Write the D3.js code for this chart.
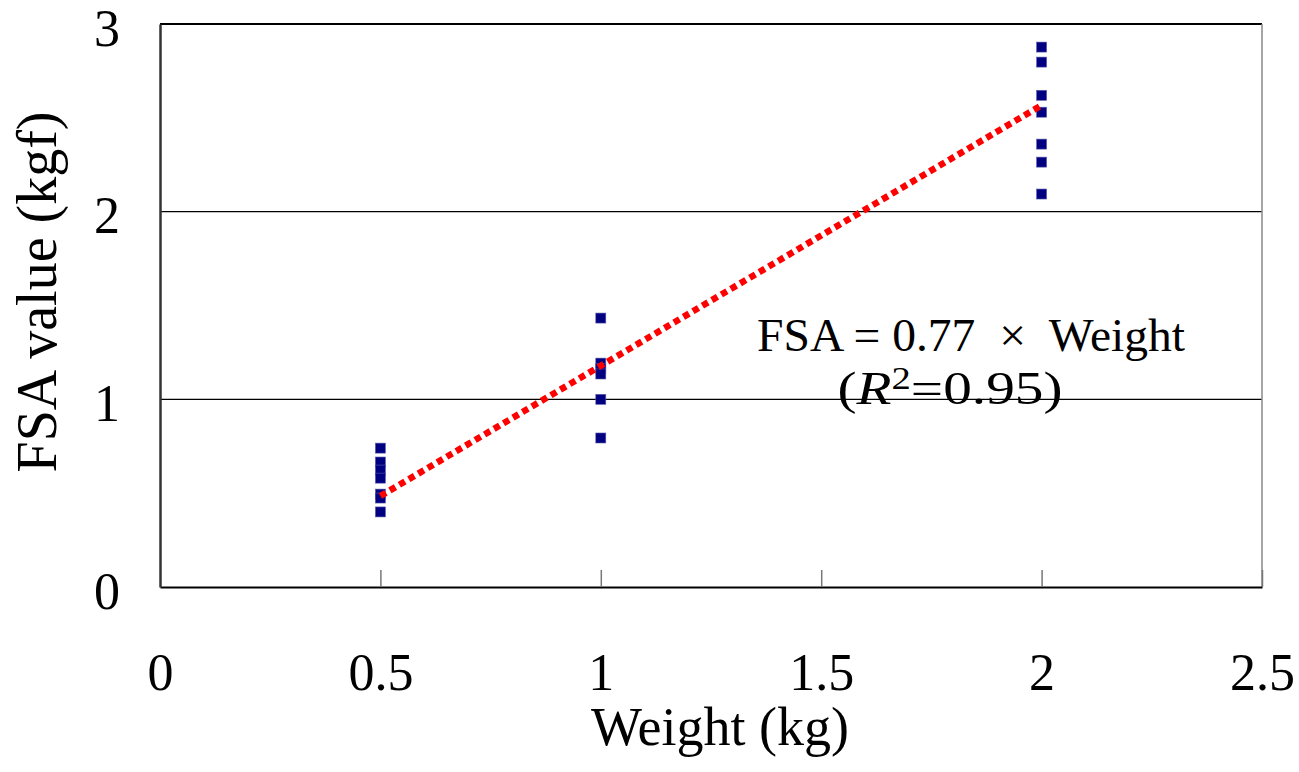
<!DOCTYPE html>
<html>
<head>
<meta charset="utf-8">
<script src="https://cdn.jsdelivr.net/npm/d3@7"></script>
<style>
  body { margin: 0; background: #fff; }
  svg { display: block; font-family: "Liberation Serif", "Times New Roman", serif; }
</style>
</head>
<body>
<svg class="chart-img"></svg>
<script>
// measured weights and FSA readings
const weights = [0.5, 1, 2];
const fsaAt05 = [0.74, 0.666, 0.623, 0.58, 0.495, 0.474, 0.40];
const fsaAt1 = [1.433, 1.193, 1.165, 1.135, 1.00, 0.794];
const fsaAt2 = [2.877, 2.797, 2.62, 2.53, 2.36, 2.264, 2.094];
const fitX = [0.5, 2];
const fitY = [0.485, 2.567];
const xTicks = [0, 0.5, 1, 1.5, 2, 2.5];
const yTicks = [0, 1, 2, 3];

const points = [];
[fsaAt05, fsaAt1, fsaAt2].forEach((vals, i) => {
    vals.forEach(v => points.push({x: weights[i], y: v}));
});

const width = 1299, height = 772;
const margins = {left: 160, right: 37, top: 24, bottom: 185};

const chart = d3.select('.chart-img')
    .attr('width', width)
    .attr('height', height);

const xScale = d3.scaleLinear().domain([0, 2.5])
    .range([margins.left, width - margins.right]);
const yScale = d3.scaleLinear().domain([0, 3])
    .range([height - margins.bottom, margins.top]);

const x0 = xScale(0), x1 = xScale(2.5), yBot = yScale(0), yTop = yScale(3);

// gridlines
chart.append('g')
    .selectAll('line')
    .data(yTicks.filter(t => t > 0 && t < 3))
    .enter()
    .append('line')
    .attr('x1', x0).attr('x2', x1)
    .attr('y1', d => yScale(d)).attr('y2', d => yScale(d))
    .attr('stroke', '#000').attr('stroke-width', 1.2);

// frame
chart.append('line').attr('x1', x0).attr('x2', x1).attr('y1', yTop).attr('y2', yTop)
    .attr('stroke', '#000').attr('stroke-width', 2);
chart.append('line').attr('x1', x1).attr('x2', x1).attr('y1', yTop).attr('y2', yBot)
    .attr('stroke', '#888').attr('stroke-width', 1.5);

// x axis, ticks pointing inward
const xAxis = chart.append('g')
    .attr('transform', `translate(0, ${yBot})`)
    .call(d3.axisBottom(xScale).tickValues(xTicks).tickFormat(d3.format('')).tickSizeInner(-17).tickSizeOuter(0));
xAxis.select('.domain').attr('stroke', '#000').attr('stroke-width', 2);
xAxis.selectAll('.tick line').attr('stroke', '#777').attr('stroke-width', 1.5)
    .filter(d => d === 0).remove();
xAxis.selectAll('.tick text')
    .attr('y', 103).attr('dy', 0)
    .attr('fill', '#000')
    .style('font-size', '52px')
    .style('font-family', '"Liberation Serif", "Times New Roman", serif');

// y axis
const yAxis = chart.append('g')
    .attr('transform', `translate(${x0}, 0)`)
    .call(d3.axisLeft(yScale).tickValues(yTicks).tickFormat(d3.format('')).tickSize(0).tickSizeOuter(0));
yAxis.select('.domain').attr('stroke', '#333').attr('stroke-width', 2.5);
yAxis.selectAll('.tick text')
    .attr('x', -40).attr('dy', 21)
    .attr('fill', '#000')
    .style('font-size', '52px')
    .style('font-family', '"Liberation Serif", "Times New Roman", serif');

// data points
chart.append('g')
    .selectAll('.pt')
    .data(points)
    .enter()
    .append('rect')
    .classed('pt', true)
    .attr('x', d => xScale(d.x) - 5)
    .attr('y', d => yScale(d.y) - 5)
    .attr('width', 10)
    .attr('height', 10)
    .attr('fill', '#000080')
    .attr('stroke', '#5a5ab0')
    .attr('stroke-width', 0.6);

// regression line
const fitData = fitX.map((x, i) => ({x: x, y: fitY[i]}));
chart.append('path')
    .datum(fitData)
    .attr('d', d3.line().x(d => xScale(d.x)).y(d => yScale(d.y)))
    .attr('fill', 'none')
    .attr('stroke', '#ff0000')
    .attr('stroke-width', 6.5)
    .attr('stroke-dasharray', '6.5,4.5');

// annotation
chart.append('text')
    .attr('x', 971).attr('y', 351)
    .attr('text-anchor', 'middle')
    .attr('textLength', 428)
    .attr('lengthAdjust', 'spacingAndGlyphs')
    .style('font-size', '46px')
    .text('FSA = 0.77 \u00A0\u00D7\u00A0 Weight');
const r2 = chart.append('text')
    .attr('x', 950).attr('y', 404)
    .attr('text-anchor', 'middle')
    .attr('textLength', 225)
    .attr('lengthAdjust', 'spacingAndGlyphs')
    .style('font-size', '46px');
r2.append('tspan').text('(');
r2.append('tspan').style('font-style', 'italic').text('R');
r2.append('tspan').attr('dy', -15).style('font-size', '31px').text('2');
r2.append('tspan').attr('dy', 15).text('=0.95)');

// axis titles
chart.append('text')
    .attr('x', 720).attr('y', 745)
    .attr('text-anchor', 'middle')
    .style('font-size', '54px')
    .text('Weight (kg)');
chart.append('text')
    .attr('transform', 'translate(56, 292) rotate(-90)')
    .attr('text-anchor', 'middle')
    .style('font-size', '56px')
    .text('FSA value (kgf)');
</script>
</body>
</html>
